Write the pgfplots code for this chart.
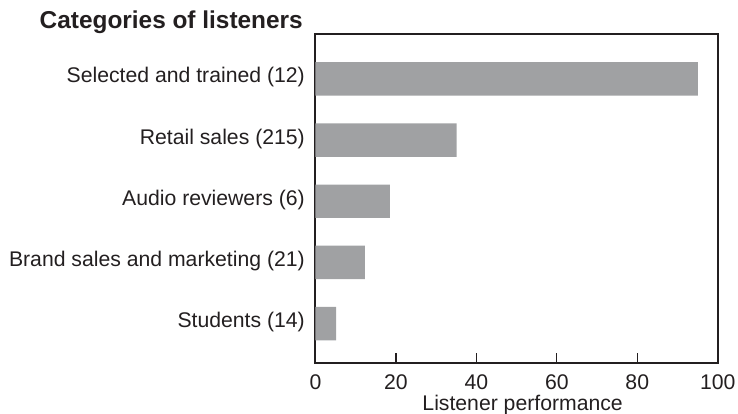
\documentclass[border=0pt]{standalone}
\usepackage{fontspec}
\setmainfont{Liberation Sans}
\usepackage{pgfplots}
\pgfplotsset{compat=1.18}

\definecolor{barcol}{RGB}{160,161,163}
\definecolor{inkcol}{RGB}{35,31,32}

\begin{document}
\begin{tikzpicture}
\begin{axis}[
    at={(0,0)}, anchor=south west,
    scale only axis,
    width=402.2bp, height=329.3bp,
    xmin=0, xmax=100,
    ymin=-0.65, ymax=4.735,
    xtick={0,20,40,60,80,100},
    xtick pos=lower,
    ytick={0,1,2,3,4},
    yticklabels={Students (14),Brand sales and marketing (21),Audio reviewers (6),Retail sales (215),Selected and trained (12)},
    tick align=inside,
    major tick length=10bp,
    ytick style={draw=none},
    xtick style={line width=1.2bp, color=inkcol},
    axis line style={line width=2bp, color=inkcol},
    /pgf/number format/assume math mode=true,
    tick label style={font=\fontsize{21.2bp}{25bp}\selectfont, text=inkcol, inner sep=0pt},
    xticklabel style={anchor=base, yshift=-25.7bp},
    yticklabel style={anchor=base east, xshift=-0.5bp, yshift=-4bp},
    xlabel={Listener performance},
    xlabel style={font=\fontsize{21.2bp}{25bp}\selectfont, text=inkcol, inner sep=0pt,
        at={(axis description cs:0.515,0)}, anchor=base, yshift=-47.4bp},
    xbar, bar width=33.4bp,
    clip=false,
]
\addplot[fill=barcol, draw=none] coordinates {
    (5.1,0) (12.3,1) (18.5,2) (35.1,3) (95.1,4)
};
\node[anchor=base east, inner sep=0pt, text=inkcol,
      font=\bfseries\fontsize{24.4bp}{28bp}\selectfont]
    at ([xshift=-12.5bp, yshift=5bp]rel axis cs:0,1) {Categories of listeners};
\end{axis}
\pgfresetboundingbox
\useasboundingbox (-315.5bp,-50.7bp) rectangle (422.5bp,363.3bp);
\end{tikzpicture}
\end{document}
